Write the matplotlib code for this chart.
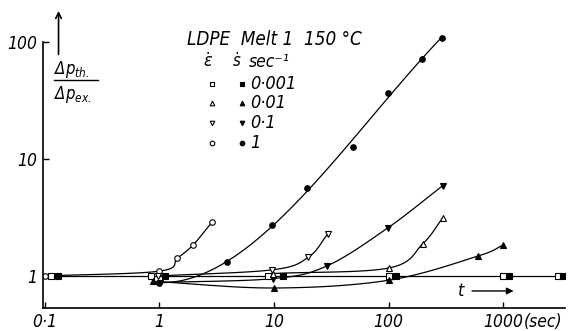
import numpy as np
import matplotlib
matplotlib.use("Agg")
import matplotlib.pyplot as plt

plt.rcParams['font.family'] = ['DejaVu Sans']
plt.rcParams['font.style'] = 'italic'
plt.rcParams['font.stretch'] = 'condensed'
plt.rcParams['mathtext.fontset'] = 'dejavusans'

# data (t in sec, ratio dp_th / dp_ex)
sq_open_x = [0.113, 0.85, 8.9, 100, 1000, 3000]
sq_fill_x = [0.13, 1.13, 12, 115, 1130, 3300]
sq_y = 1.0

oc_x = [0.1, 1.0, 1.44, 1.97, 2.9]
oc_y = [1.0, 1.1, 1.42, 1.84, 2.9]

fc_x = [1.0, 3.93, 9.7, 19.6, 48.6, 98, 194, 292]
fc_y = [0.88, 1.32, 2.73, 5.6, 12.7, 36.7, 71.5, 108]

otd_x = [0.97, 9.7, 20, 29.4]
otd_y = [1.0, 1.13, 1.45, 2.28]

ftd_x = [1.02, 9.8, 29, 98, 296]
ftd_y = [0.88, 0.95, 1.22, 2.57, 5.9]

otu_x = [9.8, 100, 198, 296]
otu_y = [1.05, 1.17, 1.88, 3.13]

ftu_x = [0.89, 10, 100, 600, 1000]
ftu_y = [0.9, 0.79, 0.92, 1.48, 1.84]

rates = ['0·001', '0·01', '0·1', '1']
xticks = [0.1, 1, 10, 100, 1000]
xticklabels = ['0·1', '1', '10', '100', '1000']
yticks = [1, 10, 100]
yticklabels = ['1', '10', '100']


def smooth(x, y, n=25):
    # Catmull-Rom through the points in log-log space
    lx = np.log10(x)
    ly = np.log10(y)
    px = np.concatenate([[2 * lx[0] - lx[1]], lx, [2 * lx[-1] - lx[-2]]])
    py = np.concatenate([[2 * ly[0] - ly[1]], ly, [2 * ly[-1] - ly[-2]]])
    ox, oy = [], []
    for i in range(1, len(px) - 2):
        t = np.linspace(0, 1, n)
        for p, o in ((px, ox), (py, oy)):
            p0, p1, p2, p3 = p[i - 1], p[i], p[i + 1], p[i + 2]
            o.extend(0.5 * (2 * p1 + (-p0 + p2) * t
                            + (2 * p0 - 5 * p1 + 4 * p2 - p3) * t ** 2
                            + (-p0 + 3 * p1 - 3 * p2 + p3) * t ** 3))
    return 10 ** np.array(ox), 10 ** np.array(oy)


def fitted(x, y, deg=3, n=120):
    # smooth trend through scattered points (log-log polyfit)
    lx = np.log10(x)
    c = np.polyfit(lx, np.log10(y), deg)
    gx = np.linspace(lx[0], lx[-1], n)
    return 10 ** gx, 10 ** np.polyval(c, gx)


fig = plt.figure(figsize=(5.69, 3.31), dpi=100)
ax = fig.add_axes([43 / 569, 23 / 331, 522 / 569, 308 / 331])
ax.set_xscale('log')
ax.set_yscale('log')
ax.set_xlim(0.097, 3450)
ax.set_ylim(0.533, 228)

lw = 0.9
ms = 4.0
k = 'black'

# baseline through the squares
bx = sorted([0.1] + sq_open_x + sq_fill_x)
ax.plot(bx, [sq_y] * len(bx), color=k, lw=lw)

sx, sy = fitted(fc_x, fc_y)
ax.plot(sx, sy, color=k, lw=lw)
for x, y in ((oc_x, oc_y), (otd_x, otd_y), (ftd_x, ftd_y),
             (otu_x, otu_y), (ftu_x, ftu_y)):
    sx, sy = smooth(x, y)
    ax.plot(sx, sy, color=k, lw=lw)

mk = dict(ls='none', ms=ms, mec=k, mew=0.8)
ax.plot(sq_open_x, [sq_y] * len(sq_open_x), marker='s', mfc='white', **mk)
ax.plot(sq_fill_x, [sq_y] * len(sq_fill_x), marker='s', mfc=k, **mk)
ax.plot(oc_x, oc_y, marker='o', mfc='white', **mk)
ax.plot(fc_x, fc_y, marker='o', mfc=k, **mk)
ax.plot(otd_x, otd_y, marker='v', mfc='white', **mk)
ax.plot(ftd_x, ftd_y, marker='v', mfc=k, **mk)
ax.plot(otu_x, otu_y, marker='^', mfc='white', **mk)
ax.plot(ftu_x, ftu_y, marker='^', mfc=k, **mk)

# axes look
for s in ('top', 'right'):
    ax.spines[s].set_visible(False)
ax.spines['left'].set_bounds(0.533, 100)
ax.spines['left'].set_linewidth(1.2)
ax.spines['bottom'].set_linewidth(1.2)
ax.set_xticks(xticks)
ax.set_xticklabels(xticklabels)
ax.set_yticks(yticks)
ax.set_yticklabels(yticklabels)
ax.minorticks_off()
ax.tick_params(axis='both', direction='in', length=4, width=1, labelsize=12.5)
ax.tick_params(axis='x', pad=3.5)
ax.tick_params(axis='y', pad=4)
ax.annotate('(sec)', xy=(1000, 0.533), xytext=(15, -3.5),
            textcoords='offset points', fontsize=12.5, ha='left', va='top',
            annotation_clip=False)

# y arrow and label
ax.annotate('', xy=(0.1325, 194), xytext=(0.1325, 74),
            arrowprops=dict(arrowstyle='->', color=k, lw=1.2))
ax.text(0.122, 47, r'$\Delta p_{th.}$', fontsize=12, ha='left', va='bottom')
ax.plot([0.12, 0.295], [47, 47], color=k, lw=1, clip_on=False)
ax.text(0.122, 44, r'$\Delta p_{ex.}$', fontsize=12, ha='left', va='top')

# t arrow
ax.text(430, 0.745, 't', fontsize=13, ha='center', va='center')
ax.annotate('', xy=(1300, 0.745), xytext=(505, 0.745),
            arrowprops=dict(arrowstyle='-|>', color=k, lw=1, mutation_scale=10))

# legend block drawn as text
ax.text(1.75, 104, 'LDPE  Melt 1  150 °C', fontsize=13.5, ha='left', va='center')
ax.text(2.68, 67, r'$\dot{\varepsilon}$', fontsize=13, ha='center', va='center')
ax.text(4.77, 67, r'$\dot{s}$', fontsize=12, ha='center', va='center')
ax.text(6.0, 67, 'sec⁻¹', fontsize=12.5, ha='left', va='center')
rows_y = [43.7, 30.1, 20.3, 13.7]
mk_open = ['s', '^', 'v', 'o']
for r, yy, m in zip(rates, rows_y, mk_open):
    ax.plot([2.89], [yy], marker=m, mfc='white', ms=3.3, mec=k, mew=0.8)
    ax.plot([5.27], [yy], marker=m, mfc=k, ms=3.3, mec=k, mew=0.8)
    ax.text(6.2, yy, r, fontsize=13, ha='left', va='center')

fig.savefig('out.png', dpi=100)
